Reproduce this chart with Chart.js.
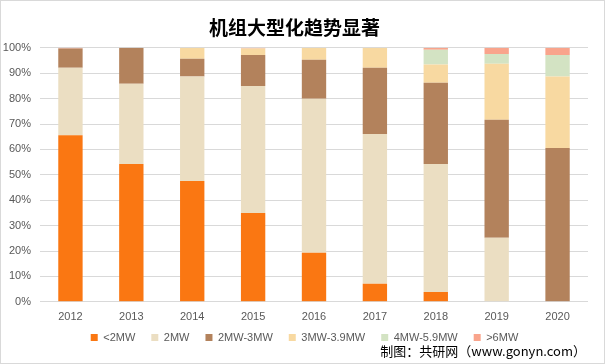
<!DOCTYPE html>
<html><head><meta charset="utf-8">
<script src="https://cdn.jsdelivr.net/npm/chart.js@4/dist/chart.umd.min.js"></script>
<style>
html,body{margin:0;padding:0;background:#fff;}
#wrap{position:relative;width:605px;height:364px;box-sizing:border-box;border:1px solid #d9d9d9;}
#c{position:absolute;left:0;top:0;}
#src{position:absolute;right:18px;bottom:3px;font:13px "Noto Sans CJK SC","Liberation Sans",sans-serif;color:#000;}
</style></head>
<body>
<div id="wrap"><canvas id="c" width="603" height="362"></canvas><div id="src">制图：共研网（www.gonyn.com）</div></div>
<script>
const years = ['2012','2013','2014','2015','2016','2017','2018','2019','2020'];
const seriesNames = ['<2MW','2MW','2MW-3MW','3MW-3.9MW','4MW-5.9MW','>6MW'];
const below2MW   = [65.6, 54.3, 47.6, 35.0, 19.3,  7.1,  3.9,  0.0,  0.0];
const mw2        = [26.5, 31.5, 41.1, 50.0, 60.6, 59.0, 50.4, 25.2,  0.0];
const mw2to3     = [ 7.6, 14.2,  7.0, 12.2, 15.4, 26.0, 31.9, 46.5, 60.6];
const mw3to39    = [ 0.0,  0.0,  4.3,  2.5,  4.7,  7.9,  7.2, 22.0, 28.1];
const mw4to59    = [ 0.0,  0.0,  0.0,  0.0,  0.0,  0.0,  5.8,  3.9,  8.5];
const above6MW   = [ 0.3,  0.0,  0.0,  0.3,  0.0,  0.0,  0.8,  2.4,  2.8];
const yTicks = [0,10,20,30,40,50,60,70,80,90,100];
const colors = ['#FA7712','#EBDEC2','#B3825C','#F8D9A1','#D3E3C3','#F9A48C'];
const allSeries = [below2MW, mw2, mw2to3, mw3to39, mw4to59, above6MW];

const legendShift = {
  id: 'legendShift',
  afterLayout(chart) {
    const lg = chart.legend;
    if (lg) { lg.top -= 9; lg.bottom -= 9; lg.left += 10; lg.right += 10; }
  }
};

new Chart(document.getElementById('c'), {
  type: 'bar',
  data: {
    labels: years,
    datasets: allSeries.map((d,i)=>({
      label: seriesNames[i], data: d, backgroundColor: colors[i],
      borderWidth: 0, barPercentage: 0.8, categoryPercentage: 0.5
    }))
  },
  plugins: [legendShift],
  options: {
    responsive: false, animation: false,
    layout: { padding: { left: 0, right: 16, top: 1, bottom: 1 } },
    plugins: {
      title: { display: true, text: '机组大型化趋势显著', color: '#000',
        font: { family: '"Noto Sans CJK SC", sans-serif', size: 19, weight: 'bold' },
        padding: { top: 14, bottom: 9 } },
      legend: { position: 'bottom',
        labels: { boxWidth: 7, boxHeight: 7, color: '#595959', padding: 16,
          font: { family: '"Liberation Sans", sans-serif', size: 11 } } },
      tooltip: { enabled: false }
    },
    scales: {
      x: { stacked: true, grid: { display: false }, border: { display: false },
        ticks: { color: '#595959', font: { family: '"Liberation Sans", sans-serif', size: 11 }, padding: 1 } },
      y: { stacked: true, min: 0, max: 100,
        afterBuildTicks: s => { s.ticks = yTicks.map(v=>({value:v})); },
        afterFit: s => { s.width = 39; },
        grid: { color: '#d9d9d9', drawTicks: false },
        border: { display: false },
        ticks: { color: '#595959', padding: 9, callback: v => v + '%',
          font: { family: '"Liberation Sans", sans-serif', size: 11 } } }
    }
  }
});
</script>
</body></html>
